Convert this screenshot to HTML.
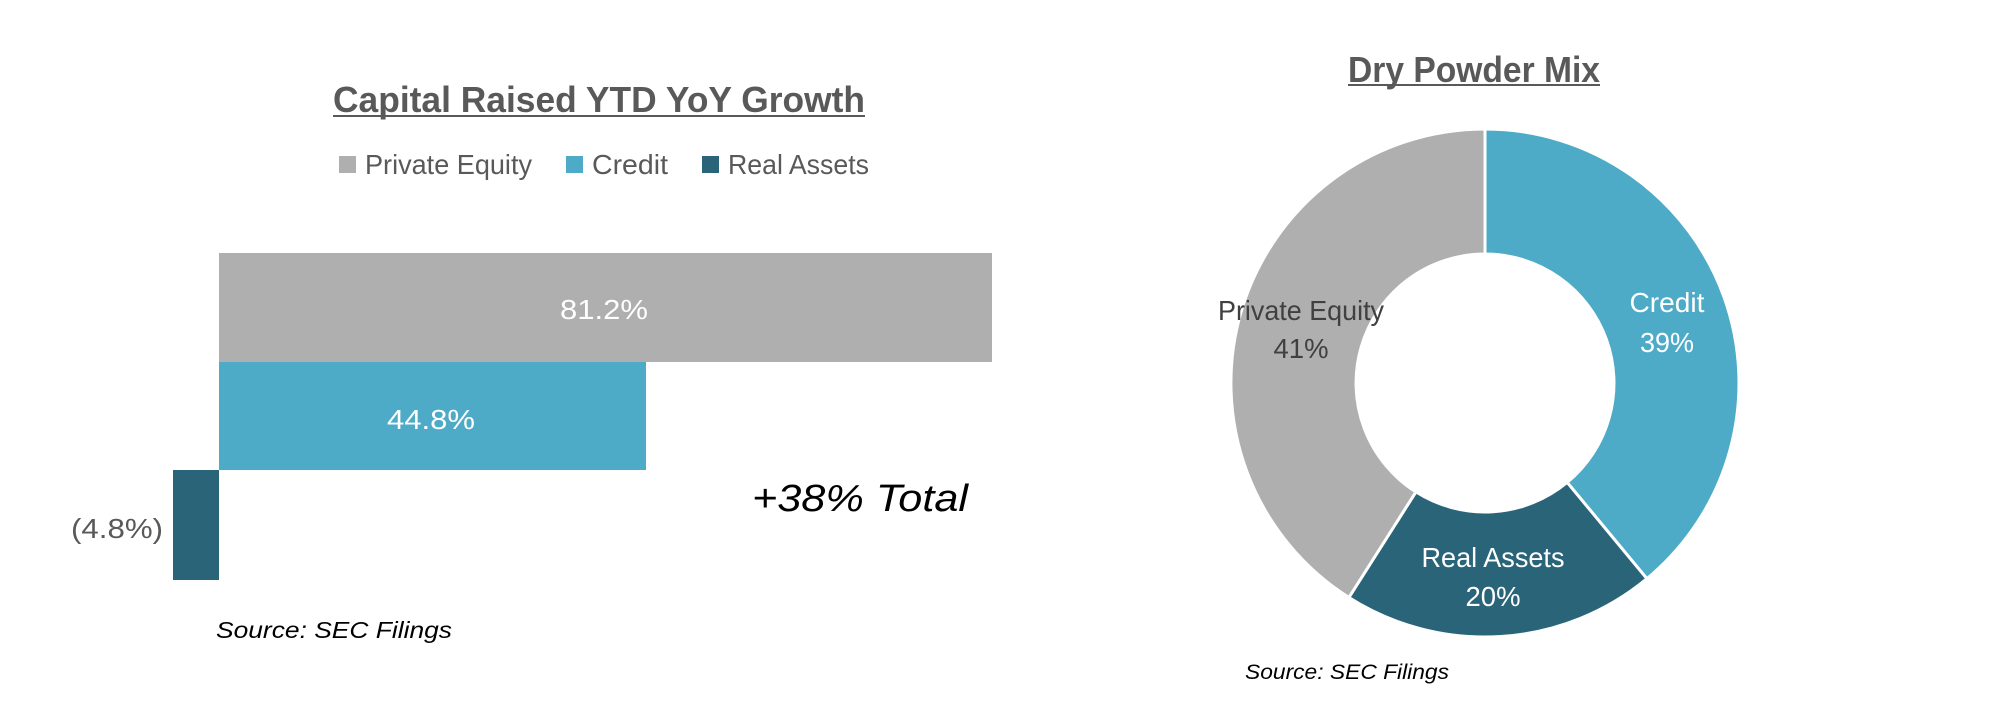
<!DOCTYPE html>
<html><head><meta charset="utf-8"><style>html,body{margin:0;padding:0;background:#fff}svg{display:block}</style></head>
<body>
<svg width="2012" height="728" viewBox="0 0 2012 728" xmlns="http://www.w3.org/2000/svg" font-family="Liberation Sans, sans-serif">
<rect width="2012" height="728" fill="#fff"/>
<!-- Left chart -->
<text x="333" y="112" font-size="36" font-weight="bold" fill="#595959" textLength="532" lengthAdjust="spacingAndGlyphs">Capital Raised YTD YoY Growth</text>
<rect x="333" y="115" width="532" height="2" fill="#595959"/>
<rect x="339" y="156" width="17" height="17" fill="#AFAFAF"/>
<text x="365" y="174" font-size="28" fill="#595959" textLength="167" lengthAdjust="spacingAndGlyphs">Private Equity</text>
<rect x="566" y="156" width="17" height="17" fill="#4EABC8"/>
<text x="592" y="174" font-size="28" fill="#595959" textLength="76" lengthAdjust="spacingAndGlyphs">Credit</text>
<rect x="702" y="156" width="17" height="17" fill="#2A6478"/>
<text x="728" y="174" font-size="28" fill="#595959" textLength="141" lengthAdjust="spacingAndGlyphs">Real Assets</text>
<rect x="219" y="253" width="773" height="109" fill="#AFAFAF"/>
<rect x="219" y="362" width="427" height="108" fill="#4EABC8"/>
<rect x="173" y="470" width="46" height="110" fill="#2A6478"/>
<text x="560" y="319" font-size="28" fill="#fff" textLength="88" lengthAdjust="spacingAndGlyphs">81.2%</text>
<text x="387" y="429" font-size="28" fill="#fff" textLength="88" lengthAdjust="spacingAndGlyphs">44.8%</text>
<text x="71" y="538" font-size="28" fill="#595959" textLength="92" lengthAdjust="spacingAndGlyphs">(4.8%)</text>
<text x="752" y="511" font-size="38" font-style="italic" fill="#000" textLength="216" lengthAdjust="spacingAndGlyphs">+38% Total</text>
<text x="216" y="638" font-size="23" font-style="italic" fill="#000" textLength="236" lengthAdjust="spacingAndGlyphs">Source: SEC Filings</text>
<!-- Right chart -->
<text x="1348" y="82" font-size="36" font-weight="bold" fill="#595959" textLength="252" lengthAdjust="spacingAndGlyphs">Dry Powder Mix</text>
<rect x="1348" y="84" width="252" height="2" fill="#595959"/>
<g stroke="#fff" stroke-width="3" stroke-linejoin="round">
<path d="M1485,129 A254,254 0 0 1 1646.9,578.7 L1567.2,482.4 A129,129 0 0 0 1485,254 Z" fill="#4EABC8"/>
<path d="M1646.9,578.7 A254,254 0 0 1 1348.9,597.5 L1415.9,491.9 A129,129 0 0 0 1567.2,482.4 Z" fill="#2A6478"/>
<path d="M1348.9,597.5 A254,254 0 0 1 1485,129 L1485,254 A129,129 0 0 0 1415.9,491.9 Z" fill="#AFAFAF"/>
</g>
<g font-size="28" text-anchor="middle">
<text x="1667" y="312" fill="#fff" textLength="75" lengthAdjust="spacingAndGlyphs">Credit</text>
<text x="1667" y="352" fill="#fff" textLength="54" lengthAdjust="spacingAndGlyphs">39%</text>
<text x="1493" y="567" fill="#fff" textLength="143" lengthAdjust="spacingAndGlyphs">Real Assets</text>
<text x="1493" y="606" fill="#fff" textLength="55" lengthAdjust="spacingAndGlyphs">20%</text>
<text x="1301" y="320" fill="#404040" textLength="166" lengthAdjust="spacingAndGlyphs">Private Equity</text>
<text x="1301" y="358" fill="#404040" textLength="55" lengthAdjust="spacingAndGlyphs">41%</text>
</g>
<text x="1245" y="679" font-size="21" font-style="italic" fill="#000" textLength="204" lengthAdjust="spacingAndGlyphs">Source: SEC Filings</text>
</svg>
</body></html>
